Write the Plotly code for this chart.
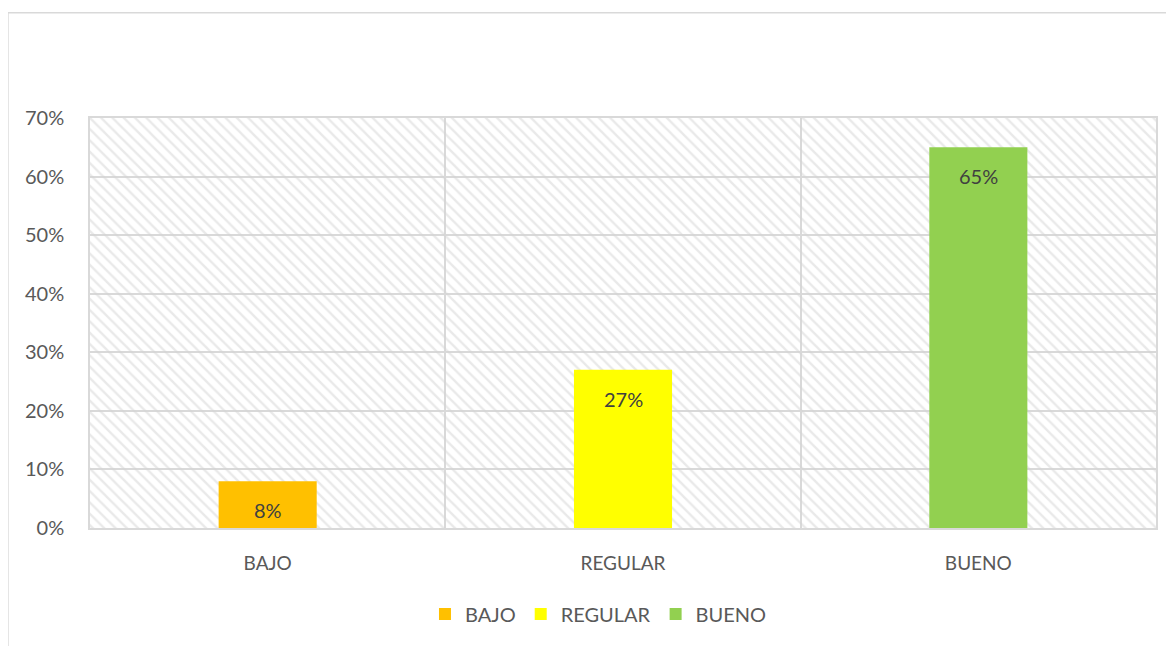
import plotly.graph_objects as go

categories = ["BAJO", "REGULAR", "BUENO"]
values = [0.08, 0.27, 0.65]
labels = ["8%", "27%", "65%"]
colors = ["#FFC000", "#FFFF00", "#92D050"]
y_ticks = [0, 0.1, 0.2, 0.3, 0.4, 0.5, 0.6, 0.7]
y_tick_labels = ["0%", "10%", "20%", "30%", "40%", "50%", "60%", "70%"]
y_max = 0.7

FONT = "Lato"
GRID = "#d9d9d9"

fig = go.Figure()

# hatched plot-area background
fig.add_trace(go.Bar(
    x=categories, y=[y_max] * len(categories), width=1,
    marker=dict(color="rgba(0,0,0,0)", line=dict(width=0),
                pattern=dict(shape="\\", size=8, solidity=0.3,
                             fgcolor="#d4d4d4", fillmode="overlay")),
    showlegend=False, hoverinfo="skip",
))

for cat, val, col in zip(categories, values, colors):
    fig.add_trace(go.Bar(
        x=[cat], y=[val], name=cat, width=0.276,
        marker=dict(color=col, line=dict(width=0)),
    ))

for cat, val, lab in zip(categories, values, labels):
    fig.add_annotation(x=cat, y=val, text=lab, showarrow=False,
                       yanchor="middle", yshift=-29,
                       font=dict(family=FONT, size=20, color="#404040"))

# outer chart border
fig.add_shape(type="rect", xref="paper", yref="paper",
              x0=-0.077, x1=1.03, y0=-0.32, y1=1.257,
              line=dict(color=GRID, width=1.5), layer="below")

fig.update_layout(
    width=1166, height=638,
    margin=dict(l=82, r=18, t=110, b=113),
    barmode="overlay",
    paper_bgcolor="white", plot_bgcolor="white",
    font=dict(family=FONT, size=20, color="#595959"),
    showlegend=True,
    legend=dict(orientation="h", x=0.477, xanchor="center", y=-0.21,
                yanchor="middle", font=dict(family=FONT, size=20, color="#595959"),
                itemwidth=30, traceorder="normal"),
)
fig.update_xaxes(
    type="category", showgrid=True, gridcolor=GRID, gridwidth=1.5,
    tickson="boundaries", ticks="", showline=True, linecolor=GRID,
    linewidth=1.5, mirror=True, ticklabelstandoff=17,
    tickfont=dict(family=FONT, size=19, color="#595959"),
)
fig.update_yaxes(
    range=[0, y_max], tickvals=y_ticks, ticktext=y_tick_labels,
    showgrid=True, gridcolor=GRID, gridwidth=1.5, zeroline=False,
    ticks="", showline=True, linecolor=GRID, linewidth=1.5, mirror=True,
    ticklabelstandoff=20,
    tickfont=dict(family=FONT, size=20, color="#595959"),
)

fig.write_html("out.html")
